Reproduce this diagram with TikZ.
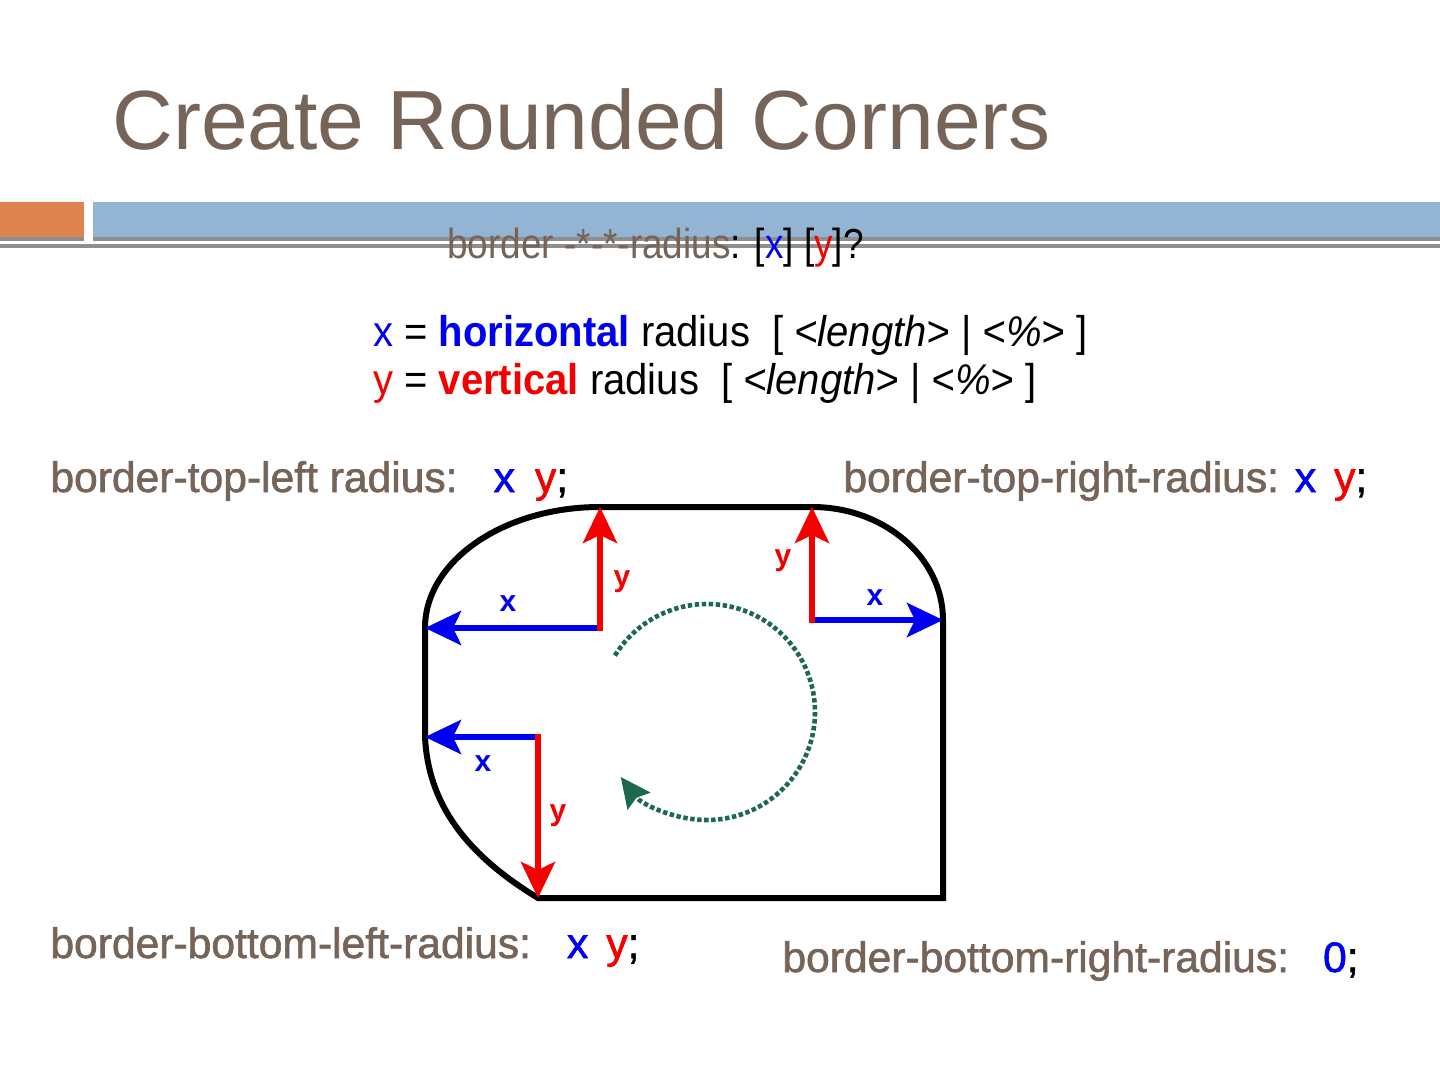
\documentclass[tikz,border=0pt]{standalone}
\usepackage{fontspec}
\setmainfont{Liberation Sans}
\newfontfamily\narrowfont[FakeStretch=0.93]{Liberation Sans}
\newfontfamily\syntaxfont[FakeStretch=0.88]{Liberation Sans}
\newfontfamily\labelfont[FakeBold=1.4]{Liberation Sans}
\usetikzlibrary{arrows.meta}
\definecolor{titlebrown}{RGB}{118,100,88}
\definecolor{barorange}{RGB}{222,132,78}
\definecolor{barblue}{RGB}{148,180,212}
\definecolor{bargray}{RGB}{142,142,142}
\definecolor{cssblue}{RGB}{0,0,240}
\definecolor{cssred}{RGB}{245,0,0}
\definecolor{turngreen}{RGB}{28,104,80}
\tikzset{
  lbl/.style={anchor=base west, inner sep=0pt, text=titlebrown, font=\labelfont\fontsize{21.3}{26}\selectfont},
  axlbl/.style={inner sep=0pt, font=\bfseries\fontsize{15}{18}\selectfont},
  outline/.style={draw=black, line width=3pt},
  radx/.style={draw=cssblue, line width=3pt, -{Stealth[length=18pt,width=17pt,inset=4pt]}},
  rady/.style={draw=cssred, line width=3pt, -{Stealth[length=18pt,width=17pt,inset=4pt]}},
  turn/.style={draw=turngreen, line width=2.3pt, dash pattern=on 2.2pt off 1.3pt, -{Stealth[length=15pt,width=14pt,inset=2pt]}}
}
\begin{document}
\begin{tikzpicture}[x=0.5pt, y=-0.5pt]
  \useasboundingbox (0,0) rectangle (1440,1080);
  \fill[white] (0,0) rectangle (1440,1080);
  % title and bars
  \node[anchor=base west, inner sep=0pt, text=titlebrown, font=\fontsize{42}{50}\selectfont] (title) at (112,150) {Create Rounded Corners};
  \fill[barorange] (0,202) rectangle (84,237);
  \fill[barblue] (93,202) rectangle (1440,237);
  \fill[bargray] (0,237) rectangle (84,241);
  \fill[bargray] (93,237) rectangle (1440,241);
  \fill[bargray] (0,244) rectangle (1440,248);
  % syntax
  \node[anchor=base west, inner sep=0pt, font=\syntaxfont\fontsize{21}{25}\selectfont] (syntax) at (447,259)
    {\textcolor{titlebrown}{border -*-*-radius}: [\textcolor{cssblue}{x}] [\textcolor{cssred}{y}]?};
  \node[anchor=base west, inner sep=0pt, font=\narrowfont\fontsize{21.5}{26}\selectfont] (xdef) at (373,347)
    {\textcolor{cssblue}{x} = \textcolor{cssblue}{\bfseries horizontal} radius\ \ [ \textit{<length>} | \textit{<\%>} ]};
  \node[anchor=base west, inner sep=0pt, font=\narrowfont\fontsize{21.5}{26}\selectfont] (ydef) at (373,395)
    {\textcolor{cssred}{y} = \textcolor{cssred}{\bfseries vertical} radius\ \ [ \textit{<length>} | \textit{<\%>} ]};
  % corner labels
  \node[lbl] (tlr) at (50,492) {border-top-left radius:\hspace{18pt}\textcolor{cssblue}{x}\hspace{10pt}\textcolor{cssred}{y}\textcolor{black}{;}};
  \node[lbl] (trr) at (843,492) {border-top-right-radius: \textcolor{cssblue}{x}\hspace{9pt}\textcolor{cssred}{y}\textcolor{black}{;}};
  \node[lbl] (blr) at (50,958) {border-bottom-left-radius:\hspace{18pt}\textcolor{cssblue}{x}\hspace{9pt}\textcolor{cssred}{y}\textcolor{black}{;}};
  \node[lbl] (brr) at (782,972) {border-bottom-right-radius:\hspace{17pt}\textcolor{cssblue}{0}\textcolor{black}{;}};
  % box outline
  \draw[outline] (600,507) -- (812,507)
    arc[start angle=-90, end angle=0, x radius=131, y radius=113] -- (943,898) -- (538,898)
    .. controls (462,852) and (428,800) .. (425,737) -- (425,628)
    arc[start angle=180, end angle=270, x radius=175, y radius=121] -- cycle;
  % radii
  \coordinate (tlc) at (600,628);
  \coordinate (tlx) at (425,628);
  \coordinate (tly) at (600,507);
  \coordinate (trc) at (812,620);
  \coordinate (trx) at (943,620);
  \coordinate (try) at (812,507);
  \coordinate (blc) at (538,737);
  \coordinate (blx) at (425,737);
  \coordinate (bly) at (538,898);
  \draw[radx] (tlc) -- (tlx);
  \draw[rady] ([yshift=-1.5pt]tlc) -- (tly);
  \draw[radx] (trc) -- (trx);
  \draw[rady] ([yshift=-1.5pt]trc) -- (try);
  \draw[radx] (blc) -- (blx);
  \draw[rady] ([yshift=1.5pt]blc) -- (bly);
  \node[axlbl, text=cssred] (tlylbl) at (622,582) {y};
  \node[axlbl, text=cssblue] (tlxlbl) at (508,604) {x};
  \node[axlbl, text=cssred] (trylbl) at (783,561) {y};
  \node[axlbl, text=cssblue] (trxlbl) at (875,598) {x};
  \node[axlbl, text=cssblue] (blxlbl) at (483,764) {x};
  \node[axlbl, text=cssred] (blylbl) at (558,816) {y};
  % turning direction
  \coordinate (mid) at (707,712);
  \draw[turn] (mid) ++(-148.5:108) arc[start angle=-148.5, end angle=143, radius=108];
\end{tikzpicture}
\end{document}
